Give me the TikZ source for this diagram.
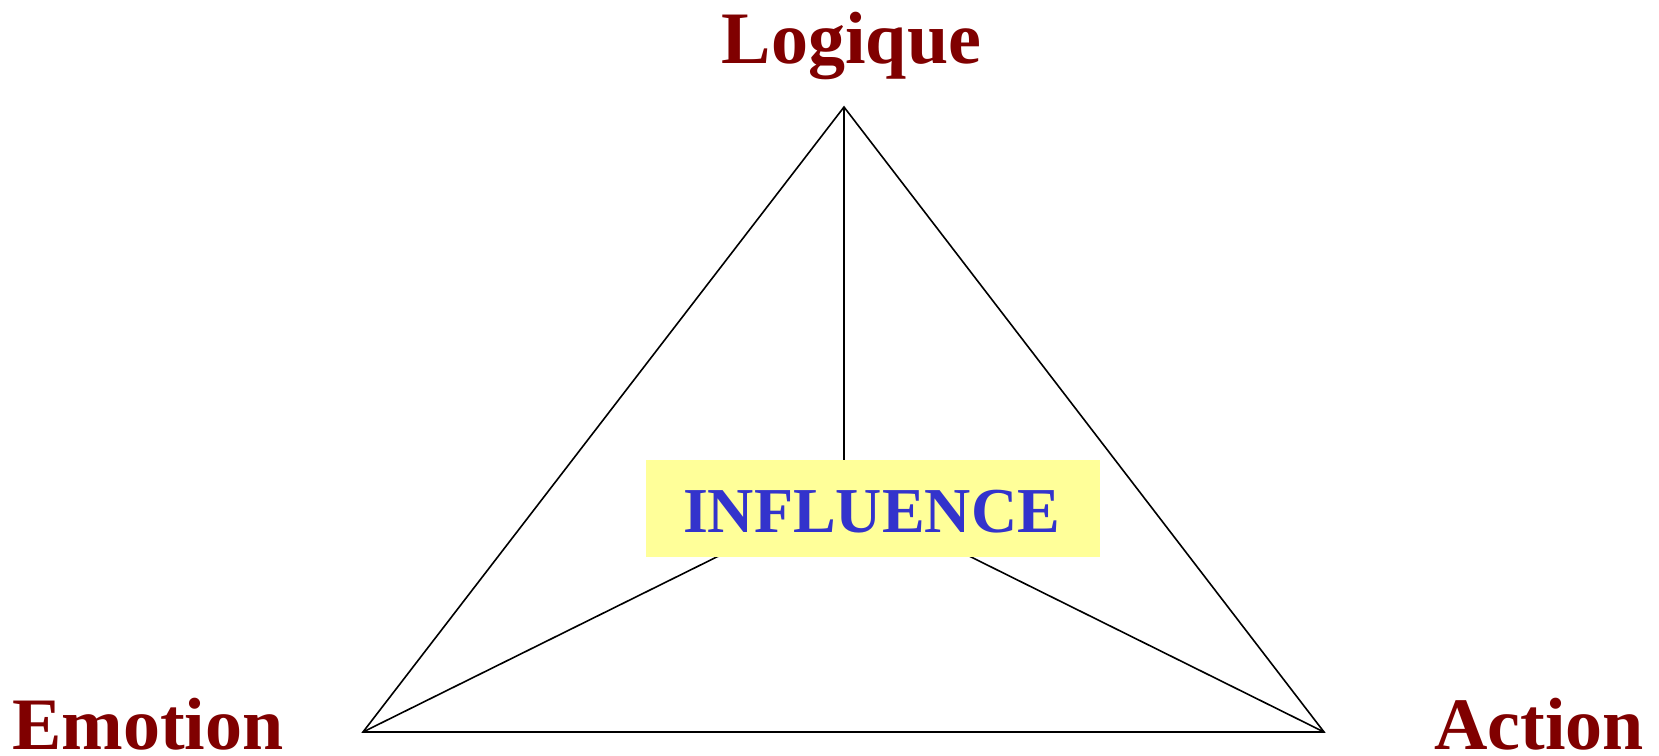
\documentclass[tikz,border=0pt]{standalone}
\usepackage{fontspec}
\setmainfont{Liberation Serif}
\definecolor{lbl}{HTML}{800000}
\definecolor{infl}{HTML}{3333CC}
\definecolor{boxy}{HTML}{FFFF99}
\begin{document}
\begin{tikzpicture}[x=1pt,y=-1pt,
  corner/.style={font=\fontsize{74}{80}\selectfont\bfseries, text=lbl, inner sep=0pt, anchor=base, text depth=0pt},
  edge/.style={draw=black, line width=1.6pt, line join=miter}]
\useasboundingbox (0,0) rectangle (1659,755);
\coordinate (top) at (844,107);
\coordinate (bl) at (363,732);
\coordinate (br) at (1324,732);
\coordinate (mid) at (844,494);
\draw[edge] (top) -- (bl) -- (br) -- cycle;
\draw[edge] (top) -- (mid);
\draw[edge] (bl) -- (mid);
\draw[edge] (br) -- (mid);
\node[fill=boxy, minimum width=454pt, minimum height=97pt, inner sep=0pt] (box) at (873,508.5) {};
\node[font=\fontsize{64}{70}\selectfont\bfseries, text=infl, inner sep=0pt, anchor=base] (influence) at (871.5,532) {INFLUENCE};
\node[corner] (logique) at (851.5,63) {Logique};
\node[corner] (emotion) at (148,749) {Emotion};
\node[corner] (action) at (1539,749) {Action};
\end{tikzpicture}
\end{document}
